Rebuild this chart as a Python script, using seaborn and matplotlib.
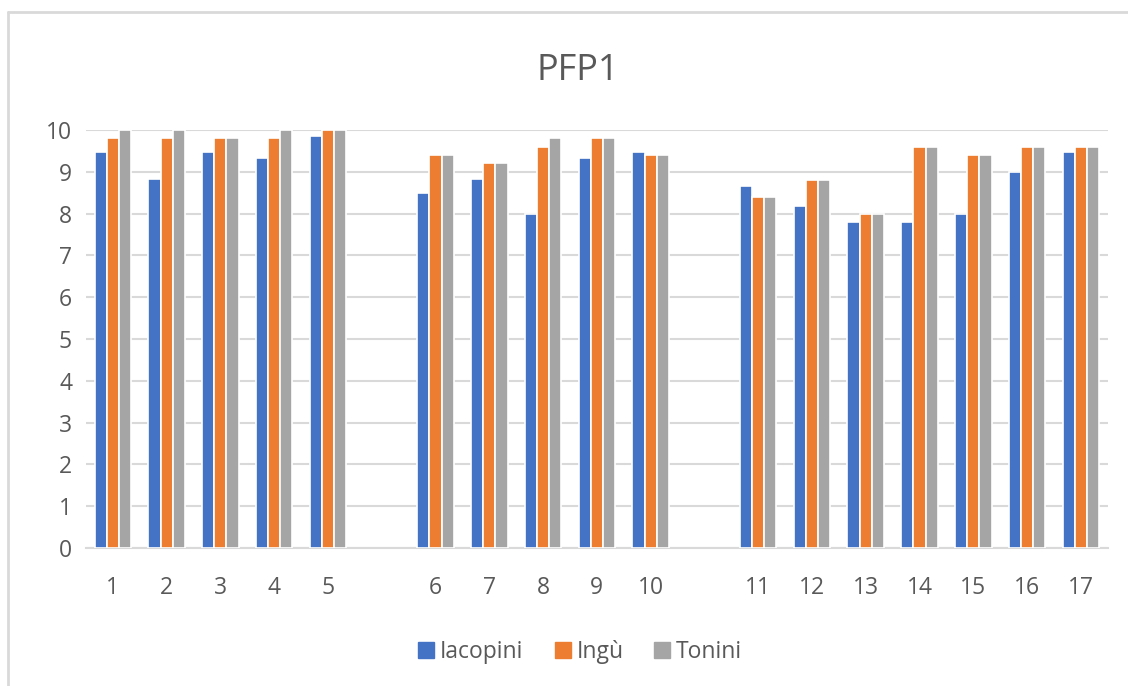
import matplotlib
matplotlib.use("Agg")
import matplotlib.pyplot as plt
import seaborn as sns
import pandas as pd
from matplotlib.lines import Line2D

categories = ["1", "2", "3", "4", "5", "6", "7", "8", "9", "10",
              "11", "12", "13", "14", "15", "16", "17"]
iacopini = [9.48, 8.83, 9.48, 9.33, 9.85, 8.5, 8.83, 8.0, 9.33, 9.48,
            8.65, 8.17, 7.8, 7.8, 8.0, 9.0, 9.48]
ingu = [9.8, 9.8, 9.8, 9.8, 10.0, 9.4, 9.2, 9.6, 9.8, 9.4,
        8.4, 8.8, 8.0, 9.6, 9.4, 9.6, 9.6]
tonini = [10.0, 10.0, 9.8, 10.0, 10.0, 9.4, 9.2, 9.8, 9.8, 9.4,
          8.4, 8.8, 8.0, 9.6, 9.4, 9.6, 9.6]
series_names = ["Iacopini", "Ingù", "Tonini"]
colors = ["#4472C4", "#ED7D31", "#A5A5A5"]
# empty slots separate the three blocks of categories
order = categories[:5] + ["gap_a"] + categories[5:10] + ["gap_b"] + categories[10:]

rows = []
for name, vals in zip(series_names, [iacopini, ingu, tonini]):
    for c, v in zip(categories, vals):
        rows.append({"cat": c, "series": name, "value": v})
df = pd.DataFrame(rows)

sns.set_theme(style="white")
plt.rcParams["font.family"] = ["Open Sans", "DejaVu Sans"]
text_color = "#595959"

fig = plt.figure(figsize=(11.28, 6.86), dpi=100)
ax = fig.add_axes([0.0762, 0.2012, 0.9058, 0.6093])

sns.barplot(data=df, x="cat", y="value", hue="series", order=order,
            hue_order=series_names, palette=colors, width=0.68, saturation=1,
            edgecolor="white", linewidth=1.2, ax=ax, legend=False, errorbar=None)

ax.set_ylim(0, 10)
ax.set_xlim(-0.5, len(order) - 0.5)
ax.set_yticks(range(0, 11))
ax.yaxis.grid(True, color="#D9D9D9", linewidth=1.5)
ax.set_axisbelow(True)
ax.set_xticks(range(len(order)))
ax.set_xticklabels([o if not o.startswith("gap") else "" for o in order])
ax.tick_params(axis="both", length=0, labelsize=16.5, colors=text_color)
ax.tick_params(axis="x", pad=20)
ax.tick_params(axis="y", pad=10)
ax.set_xlabel("")
ax.set_ylabel("")
for s in ["top", "right", "left"]:
    ax.spines[s].set_visible(False)
ax.spines["bottom"].set_color("#D9D9D9")
ax.spines["bottom"].set_linewidth(1.5)
ax.spines["bottom"].set_zorder(0.5)

fig.text(0.512, 0.897, "PFP1", ha="center", va="center", fontsize=26,
         color=text_color)

handles = [Line2D([0], [0], marker="s", linestyle="", markersize=12,
                  markerfacecolor=c, markeredgecolor=c) for c in colors]
fig.legend(handles, series_names, loc="center", bbox_to_anchor=(0.513, 0.05),
           ncol=3, frameon=False, fontsize=16.5, labelcolor=text_color,
           handletextpad=0.1, columnspacing=1.2, handlelength=1.0)

# chart frame (left and top edges visible)
fig.add_artist(Line2D([8 / 1128, 8 / 1128], [0, 1 - 12 / 686],
                      transform=fig.transFigure, color="#D9D9D9", linewidth=2))
fig.add_artist(Line2D([8 / 1128, 1], [1 - 12 / 686, 1 - 12 / 686],
                      transform=fig.transFigure, color="#D9D9D9", linewidth=2))

fig.savefig("out.png", dpi=100, facecolor="white")
